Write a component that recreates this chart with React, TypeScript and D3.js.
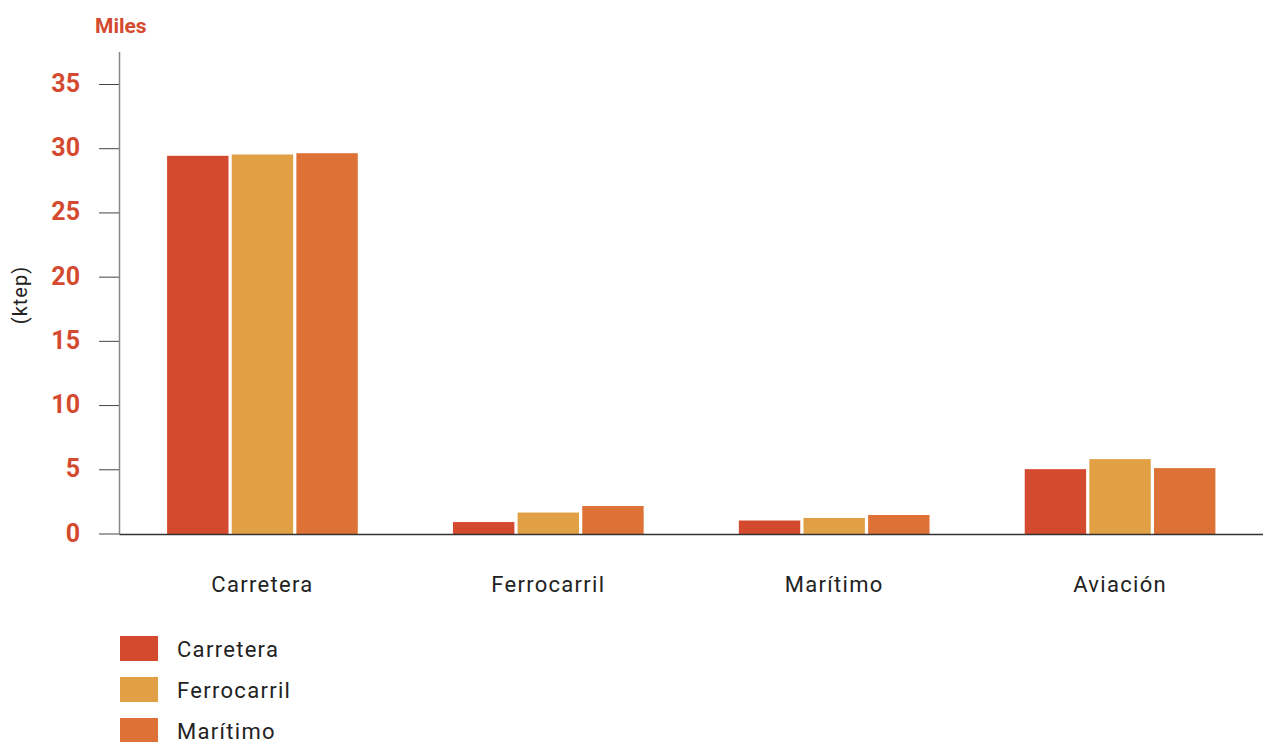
import React from "react";
import * as d3 from "d3";

const categories = ["Carretera", "Ferrocarril", "Marítimo", "Aviación"];
const seriesNames = ["Carretera", "Ferrocarril", "Marítimo"];
const seriesColors = ["#D44A2F", "#E2A044", "#DE7135"];
const valuesCarretera = [29.45, 0.93, 1.05, 5.05];
const valuesFerrocarril = [29.55, 1.67, 1.25, 5.83];
const valuesMaritimo = [29.65, 2.18, 1.48, 5.13];
const yTicks = [0, 5, 10, 15, 20, 25, 30, 35];

const series = [valuesCarretera, valuesFerrocarril, valuesMaritimo];

export default function App() {
  const W = 1276, H = 742;
  const x0 = 119.5, x1 = 1263;
  const yBottom = 534, yTop = 84.5;
  const y = d3.scaleLinear().domain([0, 35]).range([yBottom, yTop]);
  const xb = d3.scaleBand().domain(categories).range([x0, x1]).paddingInner(0.333).paddingOuter(0.1665);
  const xi = d3.scaleBand().domain(seriesNames.map((_, i) => String(i))).range([0, xb.bandwidth()]).paddingInner(0.05);
  const font = "Roboto, 'DejaVu Sans', sans-serif";
  const red = "#D44A2F";
  return (
    <svg width={W} height={H} style={{ position: "absolute", left: 0, top: 0 }} fontFamily={font}>
      <text x={95} y={33.3} fontSize={21} fontWeight={700} fill={red}>Miles</text>
      <text transform={`translate(27,295) rotate(-90)`} textAnchor="middle" fontSize={20} letterSpacing={1} fill="#222">(ktep)</text>
      {yTicks.map((t) => (
        <g key={t}>
          <line x1={99} x2={x0} y1={y(t)} y2={y(t)} stroke="#444" strokeWidth={1} />
          <text x={80} y={y(t) + 7.5} textAnchor="end" fontSize={25} fontWeight={700} fill={red}>{t}</text>
        </g>
      ))}
      {categories.map((c, ci) => (
        <g key={c} transform={`translate(${xb(c)},0)`}>
          {series.map((vals, si) => (
            <rect key={si} x={xi(String(si))} y={y(vals[ci])} width={xi.bandwidth()} height={yBottom - y(vals[ci])} fill={seriesColors[si]} />
          ))}
          <text x={xb.bandwidth() / 2} y={591.5} textAnchor="middle" fontSize={22} letterSpacing={1.3} fill="#222">{c}</text>
        </g>
      ))}
      <line x1={x0} x2={x0} y1={52} y2={yBottom} stroke="#888" strokeWidth={1.5} />
      <line x1={x0} x2={x1} y1={yBottom + 0.5} y2={yBottom + 0.5} stroke="#333" strokeWidth={1.5} />
      {seriesNames.map((s, i) => (
        <g key={s} transform={`translate(120,${636 + i * 41})`}>
          <rect x={0} y={0} width={38} height={25} fill={seriesColors[i]} />
          <text x={57} y={21.3} fontSize={22} letterSpacing={1.3} fill="#222">{s}</text>
        </g>
      ))}
    </svg>
  );
}
